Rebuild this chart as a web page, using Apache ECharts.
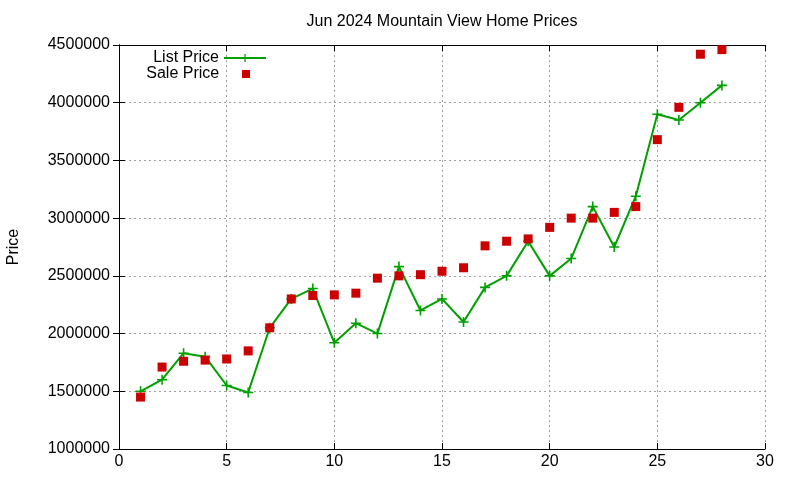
<!DOCTYPE html>
<html>
<head>
<meta charset="utf-8">
<script src="https://cdn.jsdelivr.net/npm/echarts@6/dist/echarts.min.js"></script>
<style>
  html, body { margin: 0; padding: 0; background: #fff; }
  #main { width: 800px; height: 480px; }
</style>
</head>
<body>
<div id="main"></div>
<script>
// data
var days = [1, 2, 3, 4, 5, 6, 7, 8, 9, 10, 11, 12, 13, 14, 15, 16, 17, 18, 19, 20, 21, 22, 23, 24, 25, 26, 27, 28];
var listPrice = [1500000, 1600000, 1830000, 1800000, 1550000, 1490000, 2050000, 2300000, 2390000, 1920000,
  2090000, 2000000, 2580000, 2200000, 2300000, 2100000, 2400000, 2500000, 2800000, 2500000,
  2650000, 3100000, 2750000, 3190000, 3900000, 3850000, 4000000, 4150000];
var salePrice = [1450000, 1710000, 1760000, 1770000, 1780000, 1850000, 2050000, 2300000, 2330000, 2335000,
  2350000, 2480000, 2500000, 2510000, 2540000, 2570000, 2760000, 2800000, 2820000, 2920000,
  3000000, 3000000, 3050000, 3100000, 3680000, 3960000, 4420000, 4460000];

var font = 'Liberation Sans, Arial, sans-serif';
var fs = 16;
var green = '#00a000';
var red = '#cc0000';
var plus = 'path://M4.2,0H5.8V4.2H10V5.8H5.8V10H4.2V5.8H0V4.2H4.2Z';

function pairs(ys) {
  return days.map(function (d, i) { return [d, ys[i]]; });
}

var myChart = echarts.init(document.getElementById('main'));

var gridLine = { show: true, lineStyle: { color: '#a0a0a0', type: [2, 3], width: 1 } };
var axisLine = { show: true, lineStyle: { color: '#000', width: 1 } };
var tick = { show: true, inside: true, length: 6, lineStyle: { color: '#000' } };

option = {
  animation: false,
  backgroundColor: '#fff',
  title: {
    text: 'Jun 2024 Mountain View Home Prices',
    left: 437,
    textAlign: 'center',
    top: 9,
    textStyle: { fontFamily: font, fontSize: fs, fontWeight: 'normal', color: '#000' }
  },
  grid: { left: 119, right: 35, top: 45, bottom: 31, outerBoundsMode: 'none', containLabel: false },
  legend: [
    {
      data: ['List Price'],
      right: 533, top: 50, padding: 0,
      align: 'right',
      itemWidth: 42, itemHeight: 10,
      textStyle: { fontFamily: font, fontSize: fs, color: '#000' }
    },
    {
      data: [{ name: 'Sale Price', icon: 'rect' }],
      right: 550, top: 66, padding: 0,
      align: 'right',
      itemWidth: 8, itemHeight: 8,
      formatter: function (name) { return name + '    '; },
      textStyle: { fontFamily: font, fontSize: fs, color: '#000' }
    }
  ],
  xAxis: [
    {
      type: 'value', min: 0, max: 30, interval: 5, position: 'bottom',
      axisLine: axisLine, axisTick: tick, splitLine: gridLine,
      axisLabel: { fontFamily: font, fontSize: fs, color: '#000', margin: 5 }
    },
    {
      type: 'value', min: 0, max: 30, interval: 5, position: 'top',
      axisLine: axisLine, axisTick: tick, splitLine: { show: false },
      axisLabel: { show: false }
    }
  ],
  yAxis: [
    {
      type: 'value', min: 1000000, max: 4500000, interval: 500000, position: 'left',
      name: 'Price', nameLocation: 'middle', nameGap: 97, nameRotate: 90,
      nameTextStyle: { fontFamily: font, fontSize: fs, color: '#000' },
      axisLine: axisLine, axisTick: tick, splitLine: gridLine,
      axisLabel: {
        fontFamily: font, fontSize: fs, color: '#000', margin: 9,
        formatter: function (v) { return String(v); }
      }
    },
    {
      type: 'value', min: 1000000, max: 4500000, interval: 500000, position: 'right',
      axisLine: axisLine, axisTick: tick, splitLine: { show: false },
      axisLabel: { show: false }
    }
  ],
  series: [
    {
      name: 'List Price',
      type: 'line',
      data: pairs(listPrice),
      symbol: plus,
      symbolSize: 10,
      showAllSymbol: true,
      color: green,
      itemStyle: { color: green },
      lineStyle: { color: green, width: 2 },
      z: 3
    },
    {
      name: 'Sale Price',
      type: 'scatter',
      data: pairs(salePrice),
      symbol: 'rect',
      symbolSize: 9,
      color: red,
      itemStyle: { color: red, opacity: 1 },
      z: 4
    }
  ]
};

myChart.setOption(option);
</script>
</body>
</html>
